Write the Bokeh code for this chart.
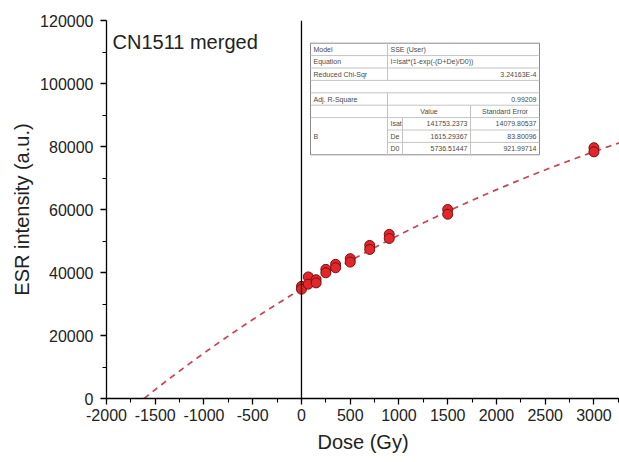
import numpy as np
from bokeh.plotting import figure
from bokeh.models import Range1d, FixedTicker, NumeralTickFormatter, Span, Label
from bokeh.embed import file_html
from bokeh.resources import INLINE

# ---------------- data ----------------
dose = [0, 0, 70, 70, 150, 150, 250, 250, 350, 350, 500, 500,
        700, 700, 900, 900, 1500, 1500, 3000, 3000]
intensity = [35600, 34700, 38600, 36300, 37700, 36700, 41000, 39900,
             42600, 41500, 44400, 43300, 48600, 47300, 52100, 50800,
             60000, 58500, 79600, 78300]

# fit parameters as printed in the table
Isat = 141753.2373
De = 1615.29367
D0 = 5736.51447

x_ticks = [-2000, -1500, -1000, -500, 0, 500, 1000, 1500, 2000, 2500, 3000]
y_ticks = [0, 20000, 40000, 60000, 80000, 100000, 120000]

table_rows = [
    ("Model", "SSE (User)", ""),
    ("Equation", "I=Isat*(1-exp(-(D+De)/D0))", ""),
    ("Reduced Chi-Sqr", "", "3.24163E-4"),
    ("", "", ""),
    ("Adj. R-Square", "", "0.99209"),
]
param_names = ["Isat", "De", "D0"]
param_values = ["141753.2373", "1615.29367", "5736.51447"]
param_errors = ["14079.80537", "83.80096", "921.99714"]

FONT = "Liberation Sans"

X0, X1 = -2000, 3262
Y0, Y1 = 0, 120000
FL, FR, FT, FB = 106, 619, 20, 398  # frame in page pixels

def dx(px):
    return X0 + (px - FL) * (X1 - X0) / (FR - FL)

def dy(py):
    return Y0 + (FB - py) * (Y1 - Y0) / (FB - FT)

p = figure(width=619, height=462, output_backend="svg", toolbar_location=None,
           x_range=Range1d(X0, X1), y_range=Range1d(Y0, Y1),
           min_border_left=FL, min_border_right=0, min_border_top=FT,
           min_border_bottom=462 - FB)
p.outline_line_color = None
p.xgrid.visible = False
p.ygrid.visible = False
p.background_fill_color = "white"

for ax in (p.xaxis[0], p.yaxis[0]):
    ax.axis_line_color = "black"
    ax.axis_line_width = 1.3
    ax.major_tick_line_color = "black"
    ax.minor_tick_line_color = "black"
    ax.major_tick_line_width = 1.3
    ax.minor_tick_line_width = 1.1
    ax.major_tick_in = 0
    ax.major_tick_out = 6
    ax.minor_tick_in = 0
    ax.minor_tick_out = 4
    ax.major_label_text_font = FONT
    ax.major_label_text_font_size = "16px"
    ax.major_label_text_color = "#222222"
    ax.axis_label_text_font = FONT
    ax.axis_label_text_font_size = "20px"
    ax.axis_label_text_font_style = "normal"
    ax.axis_label_text_color = "#222222"
    ax.formatter = NumeralTickFormatter(format="0")

p.xaxis.ticker = FixedTicker(ticks=x_ticks,
                             minor_ticks=[t + 250 for t in x_ticks])
p.yaxis.ticker = FixedTicker(ticks=y_ticks,
                             minor_ticks=[t + 10000 for t in y_ticks[:-1]])
p.xaxis.axis_label = "Dose (Gy)"
p.yaxis.axis_label = "ESR intensity (a.u.)"
p.xaxis.major_label_standoff = 4
p.xaxis.axis_label_standoff = 7
p.yaxis.major_label_standoff = 7
p.yaxis.axis_label_standoff = 4

# vertical line at dose 0
p.add_layout(Span(location=0, dimension="height", line_color="black",
                  line_width=1.3))

# fitted curve
D = np.linspace(-De, X1, 400)
I = Isat * (1 - np.exp(-(D + De) / D0))
p.line(D, I, line_color="#c94452", line_width=1.7, line_dash="6 5")

# data points
p.scatter(dose, intensity, size=10, marker="circle",
          fill_color="#e3262b", line_color="#7a1010", line_width=1)

# sample label
p.add_layout(Label(x=dx(112), y=dy(41), text="CN1511 merged",
                   text_font=FONT, text_font_size="20px",
                   text_color="#222222", text_baseline="alphabetic"))

# ---------------- results table ----------------
c0, c1, c2, c3, c4 = 310, 387, 402, 470, 539
r = [42.7 + 12.4 * i for i in range(10)]

p.quad(left=[dx(c0)], right=[dx(c4)], top=[dy(r[0])], bottom=[dy(r[9])],
       fill_color="white", line_color="#8a8a8a", line_width=1)

grid = "#c4c4c4"
hx0, hx1, hy = [], [], []
for i in range(1, 7):
    hx0.append(dx(c0)); hx1.append(dx(c4)); hy.append(dy(r[i]))
for i in (7, 8):
    hx0.append(dx(c1)); hx1.append(dx(c4)); hy.append(dy(r[i]))
p.segment(x0=hx0, x1=hx1, y0=hy, y1=hy, line_color=grid, line_width=1)

vx, vy0, vy1 = [], [], []
vx += [dx(c1)]; vy0 += [dy(r[0])]; vy1 += [dy(r[3])]
vx += [dx(c1)]; vy0 += [dy(r[4])]; vy1 += [dy(r[9])]
vx += [dx(c2)]; vy0 += [dy(r[6])]; vy1 += [dy(r[9])]
vx += [dx(c3)]; vy0 += [dy(r[5])]; vy1 += [dy(r[9])]
p.segment(x0=vx, x1=vx, y0=vy0, y1=vy1, line_color=grid, line_width=1)

TS = "7px"
TC = "#4a4a4a"

def lab(px, py, text, align="left"):
    p.add_layout(Label(x=dx(px), y=dy(py), text=text, text_font=FONT,
                       text_font_size=TS, text_color=TC,
                       text_align=align, text_baseline="middle"))

for i, (a, b, c) in enumerate(table_rows):
    ym = (r[i] + r[i + 1]) / 2
    if a:
        lab(c0 + 3, ym, a)
    if b:
        lab(c1 + 3, ym, b)
    if c:
        lab(c4 - 3, ym, c, "right")

ym = (r[5] + r[6]) / 2
lab((c1 + c3) / 2, ym, "Value", "center")
lab((c3 + c4) / 2, ym, "Standard Error", "center")
lab(c0 + 3, (r[7] + r[8]) / 2, "B")
for k in range(3):
    ym = (r[6 + k] + r[7 + k]) / 2
    lab(c1 + 3, ym, param_names[k])
    lab(c3 - 3, ym, param_values[k], "right")
    lab(c4 - 3, ym, param_errors[k], "right")

open("out.html", "w").write(file_html(p, INLINE))
